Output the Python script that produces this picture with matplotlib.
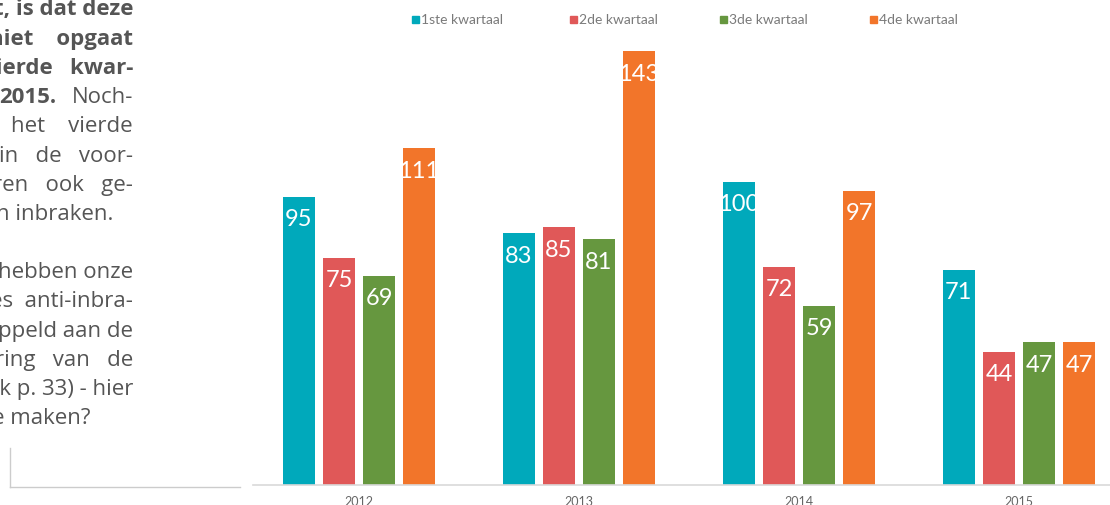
import matplotlib as mpl
from matplotlib import pyplot as plt
import numpy as np

years = ['2012', '2013', '2014', '2015']
kwartalen = ['1ste kwartaal', '2de kwartaal', '3de kwartaal', '4de kwartaal']
q1 = [95, 83, 100, 71]
q2 = [75, 85, 72, 44]
q3 = [69, 81, 59, 47]
q4 = [111, 143, 97, 47]
series = [q1, q2, q3, q4]
colors = ['#00A9BB', '#E05858', '#66973F', '#F2752A']

# tekstkolom links (afgesneden artikeltekst)
bold_lines = ['t, is dat deze', 'niet    opgaat', 'vierde   kwar-']
normal_lines_1 = ['het    vierde', 'in   de   voor-', 'ren   ook   ge-']
normal_lines_2 = ['hebben onze', 'es  anti-inbra-', 'ppeld aan de', 'ring   van   de',
                  'ok p. 33) - hier']

mpl.rcParams['font.family'] = 'Lato'

W, H = 1110, 506
fig = plt.figure(figsize=(W / 100, H / 100), dpi=100)

# as: baseline op y=486 px, links op x=253 px
ax = fig.add_axes([253 / W, 20 / H, 857 / W, 455 / H])
x = np.arange(len(years))
offsets = [-0.273, -0.091, 0.091, 0.273]
width = 0.145
for i, vals in enumerate(series):
    bars = ax.bar(x + offsets[i], vals, width, color=colors[i], zorder=2)
    for b, v in zip(bars, vals):
        ax.text(b.get_x() + b.get_width() / 2, v - 7.2, str(v), ha='center', va='center',
                color='white', fontsize=17)

ax.set_xlim(-0.482, 3.414)
ax.set_ylim(0, 150)
ax.set_xticks(x)
ax.set_xticklabels(years, fontsize=9, color='#666666')
ax.tick_params(axis='x', length=0, pad=7)
ax.set_yticks([])
for s in ['top', 'right', 'left']:
    ax.spines[s].set_visible(False)
ax.spines['bottom'].set_color('#d9d9d9')
ax.spines['bottom'].set_linewidth(1.2)

# legenda bovenaan
leg_x = [412, 570, 720, 870]
for lx, lab, c in zip(leg_x, kwartalen, colors):
    fig.patches.append(plt.Rectangle((lx / W, 1 - 24 / H), 7 / W, 7 / H,
                                     transform=fig.transFigure, color=c))
    fig.text((lx + 9) / W, 1 - 20.5 / H, lab, ha='left', va='center',
             fontsize=10, color='#7a7a7a')

# tekstkolom
tf = dict(family='Open Sans', fontsize=16, color='#555555', ha='right', va='center')
right = 133 / W
step = 29.2
y = 10
for line in bold_lines:
    fig.text(right, 1 - y / H, line, fontweight='bold', **tf)
    y += step
fig.text(right, 1 - y / H, 'Noch-', **tf)
fig.text(56 / W, 1 - y / H, '2015.', fontweight='bold', **tf)
y += step
for line in normal_lines_1:
    fig.text(right, 1 - y / H, line, **tf)
    y += step
fig.text(113 / W, 1 - y / H, 'n inbraken.', **tf)

y += 2 * step
for line in normal_lines_2:
    fig.text(right, 1 - y / H, line, **tf)
    y += step
fig.text(90 / W, 1 - y / H, 'e maken?', **tf)

# kader onder de tekst
fig.add_artist(plt.Line2D([10 / W, 10 / W], [1 - 449 / H, 1 - 488 / H],
                          transform=fig.transFigure, color='#cccccc', lw=1))
fig.add_artist(plt.Line2D([10 / W, 240 / W], [1 - 488 / H, 1 - 488 / H],
                          transform=fig.transFigure, color='#cccccc', lw=1))

plt.savefig('out.png', dpi=100)
